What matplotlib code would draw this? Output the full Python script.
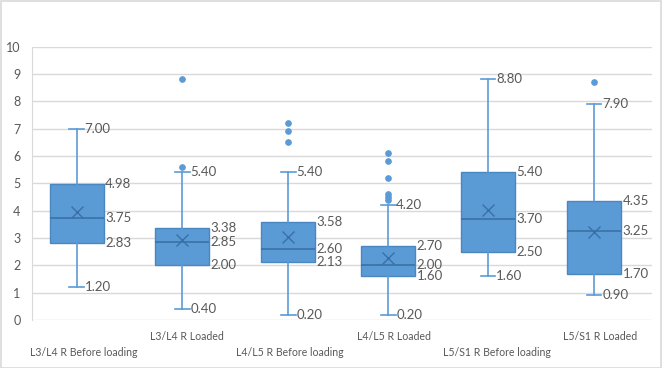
import matplotlib
matplotlib.use("Agg")
import matplotlib.pyplot as plt
from matplotlib.patches import Rectangle

categories = ["L3/L4 R Before loading", "L3/L4 R Loaded", "L4/L5 R Before loading",
              "L4/L5 R Loaded", "L5/S1 R Before loading", "L5/S1 R Loaded"]
whisker_low = [1.20, 0.40, 0.20, 0.20, 1.60, 0.90]
q1 = [2.83, 2.00, 2.13, 1.60, 2.50, 1.70]
median = [3.75, 2.85, 2.60, 2.00, 3.70, 3.25]
q3 = [4.98, 3.38, 3.58, 2.70, 5.40, 4.35]
whisker_high = [7.00, 5.40, 5.40, 4.20, 8.80, 7.90]
mean = [3.95, 2.93, 3.02, 2.28, 4.04, 3.23]
outliers = [[], [8.8, 5.6], [7.2, 6.9, 6.5], [6.1, 5.8, 5.2, 4.6, 4.5, 4.4], [], [8.7]]
yticks = [0, 1, 2, 3, 4, 5, 6, 7, 8, 9, 10]

# layout
box_pos = [0.435, 1.457, 2.482, 3.449, 4.416, 5.441]
label_pos = [0.5, 1.5, 2.5, 3.5, 4.5, 5.5]

fill = "#5B9BD5"
edge = "#4A86C0"
dark = "#3A70A8"
txt = "#595959"
grid = "#D9D9D9"

plt.rcParams['font.family'] = ['Lato', 'DejaVu Sans']

fig = plt.figure(figsize=(6.62, 3.68), dpi=100)
ax = fig.add_axes([31.7/662, 1-320/368, (652-31.7)/662, (320-46.7)/368])

stats = []
for i in range(len(categories)):
    stats.append(dict(med=median[i], q1=q1[i], q3=q3[i], whislo=whisker_low[i],
                      whishi=whisker_high[i], mean=mean[i], fliers=outliers[i]))

ax.bxp(stats, positions=box_pos, widths=0.52, patch_artist=True, showmeans=True,
       boxprops=dict(facecolor=fill, edgecolor=edge, linewidth=1.0),
       medianprops=dict(color=dark, linewidth=1.2),
       whiskerprops=dict(color=fill, linewidth=1.2),
       capprops=dict(color=fill, linewidth=1.2),
       capwidths=0.14,
       meanprops=dict(marker='x', markeredgecolor=dark, markersize=8, markeredgewidth=1.0),
       flierprops=dict(marker='o', markerfacecolor=fill, markeredgecolor=fill, markersize=3.8),
       zorder=3)

ax.set_xlim(0, 6)
ax.set_ylim(0, 10)
ax.set_yticks(yticks)
ax.set_yticklabels([str(v) for v in yticks], fontsize=9, color=txt)
ax.tick_params(axis='y', length=0, pad=8)
ax.set_xticks([])
ax.grid(axis='y', color=grid, linewidth=1.0, zorder=0)
ax.set_axisbelow(True)
for s in ['top', 'right', 'bottom']:
    ax.spines[s].set_visible(False)
ax.spines['left'].set_color(grid)

# data labels
for i in range(len(categories)):
    xb = box_pos[i] + 0.26
    xc = box_pos[i] + 0.07
    for v in (q3[i], median[i], q1[i]):
        ax.annotate(f"{v:.2f}", (xb, v), xytext=(1, 0), textcoords='offset points',
                    va='center', ha='left', fontsize=9.5, color=txt, zorder=4)
    for v in (whisker_high[i], whisker_low[i]):
        ax.annotate(f"{v:.2f}", (xc, v), xytext=(0.5, 0), textcoords='offset points',
                    va='center', ha='left', fontsize=9.5, color=txt, zorder=4)

# category labels, alternating rows
for i, name in enumerate(categories):
    off = -17 if i % 2 == 1 else -32
    ax.annotate(name, (label_pos[i], 0), xycoords=('data', 'axes fraction'),
                xytext=(0, off * 0.72), textcoords='offset points',
                ha='center', va='center', fontsize=7.6, color=txt)

fig.patches.append(Rectangle((0.5/662, 0.5/368), 1-1.5/662, 1-1.5/368, transform=fig.transFigure,
                             fill=False, edgecolor=grid, linewidth=1.2))

fig.savefig("out.png", dpi=100)
